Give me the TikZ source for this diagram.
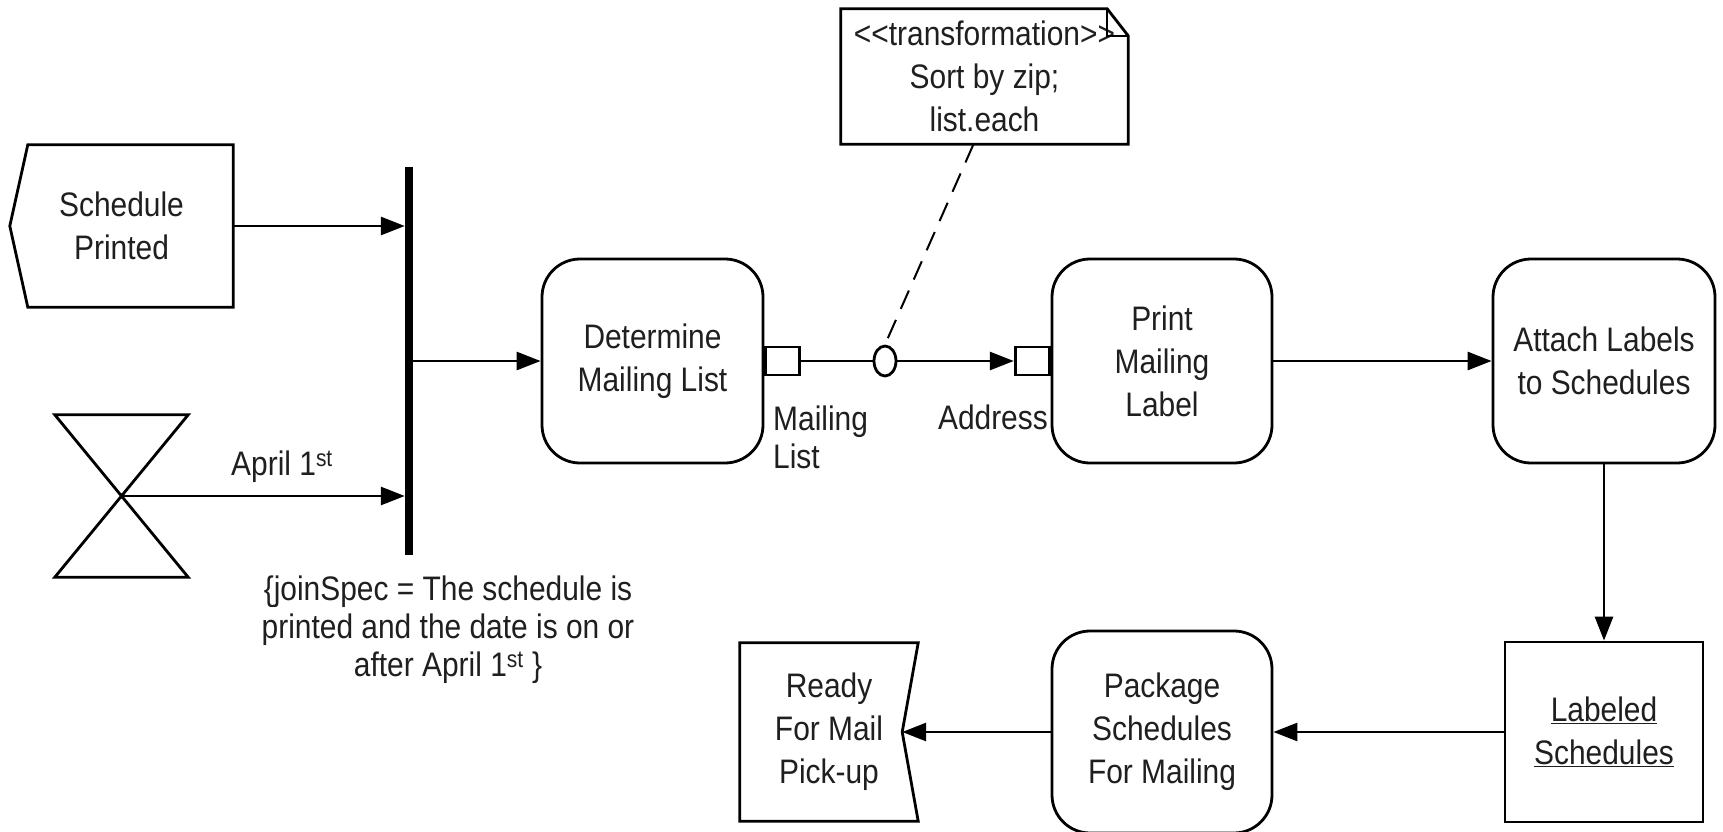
\documentclass[tikz,border=0pt]{standalone}
\usepackage{fontspec}
\setmainfont[FakeStretch=0.88]{Liberation Sans}
\usetikzlibrary{arrows.meta,shapes.geometric}
\tikzset{
  lw/.style={line width=2.8pt},
  txt/.style={font=\fontsize{34pt}{43pt}\selectfont, text=black!88, align=center, inner sep=0pt},
  action/.style={txt, draw, lw, rounded corners=38pt},
  pinbox/.style={draw, lw, fill=white, minimum width=34pt, minimum height=28pt, inner sep=0pt},
  conn/.style={lw, -{Triangle[length=24pt,width=18pt]}},
}
\begin{document}
\begin{tikzpicture}[x=1pt,y=-1pt]
\fill[white] (0,0) rectangle (1723,832);
\useasboundingbox (0,0) rectangle (1723,832);

% nodes
\node[txt, minimum width=223pt, minimum height=162pt] (sp) at (121.5,226) {Schedule\\Printed};
\node[inner sep=0pt, minimum width=133pt, minimum height=162pt] (timer) at (121.5,496) {};
\node[fill=black, inner sep=0pt, minimum width=8pt, minimum height=388pt] (bar) at (409,361) {};
\node[txt] (apr) at (282,467) {April 1\textsuperscript{st}};
\node[txt, font=\fontsize{34pt}{38pt}\selectfont] (join) at (448,630)
  {\{joinSpec = The schedule is\\printed and the date is on or\\after April 1\textsuperscript{st} \}};
\node[action, minimum width=221pt, minimum height=204pt] (dml) at (652.5,361) {Determine\\Mailing List};
\node[pinbox, anchor=west] (pout) at (dml.east) {};
\node[draw, lw, ellipse, fill=white, inner sep=0pt, minimum width=22pt, minimum height=30pt] (flow) at (885,361) {};
\node[action, minimum width=220pt, minimum height=204pt] (pml) at (1162,361) {Print\\Mailing\\Label};
\node[pinbox, anchor=east] (pin) at (pml.west) {};
\node[action, minimum width=222pt, minimum height=204pt] (ass) at (1604,361) {Attach Labels\\to Schedules};
\node[txt, draw, lw, minimum width=198pt, minimum height=180pt] (ls) at (1604,732) {\underline{Labeled}\\\underline{Schedules}};
\node[action, minimum width=220pt, minimum height=202pt] (psfm) at (1162,732) {Package\\Schedules\\For Mailing};
\node[txt, minimum width=178pt, minimum height=178pt] (rfm) at (829,732) {Ready\\For Mail\\Pick-up};
\node[txt, minimum width=287pt, minimum height=135pt] (note) at (984.5,76.5)
  {<\kern0pt<transformation>\kern0pt>\\Sort by zip;\\list.each};
\node[txt, align=left, anchor=north west, font=\fontsize{34pt}{38pt}\selectfont] (mlab) at (773,406) {Mailing\\List};
\node[txt, anchor=east] (addr) at (1048,417) {Address};

% outlines of special shapes
\draw[lw] ([xshift=18pt]sp.north west) -- (sp.north east) -- (sp.south east)
  -- ([xshift=18pt]sp.south west) -- (sp.west) -- cycle;
\draw[lw] (timer.north west) -- (timer.north east) -- (timer.south west) -- (timer.south east) -- cycle;
\draw[lw] (rfm.north west) -- (rfm.north east) -- ([xshift=-16pt]rfm.east)
  -- (rfm.south east) -- (rfm.south west) -- cycle;
\draw[lw] (note.south west) -- (note.north west) -- ([xshift=-21pt]note.north east)
  -- ([yshift=-27pt]note.north east) -- (note.south east) -- cycle;
\draw[line width=1.8pt] ([xshift=-21pt]note.north east) -- ([xshift=-21pt,yshift=-27pt]note.north east)
  -- ([yshift=-27pt]note.north east);

% connectors
\draw[conn] (sp.east) -- (sp.east -| bar.west);
\draw[conn] (timer.center) -- (timer.center -| bar.west);
\draw[conn] (bar.east |- dml.west) -- (dml.west);
\draw[lw] (pout.east) -- (flow.west);
\draw[conn] (flow.east) -- (pin.west);
\draw[line width=2pt, dash pattern=on 20pt off 12pt] ([xshift=-11pt]note.south) -- (flow.north);
\draw[conn] (pml.east) -- (ass.west);
\draw[conn] (ass.south) -- (ls.north);
\draw[conn] (ls.west) -- (ls.west -| psfm.east);
\draw[conn] (psfm.west) -- ([xshift=-16pt]rfm.east);
\end{tikzpicture}
\end{document}
